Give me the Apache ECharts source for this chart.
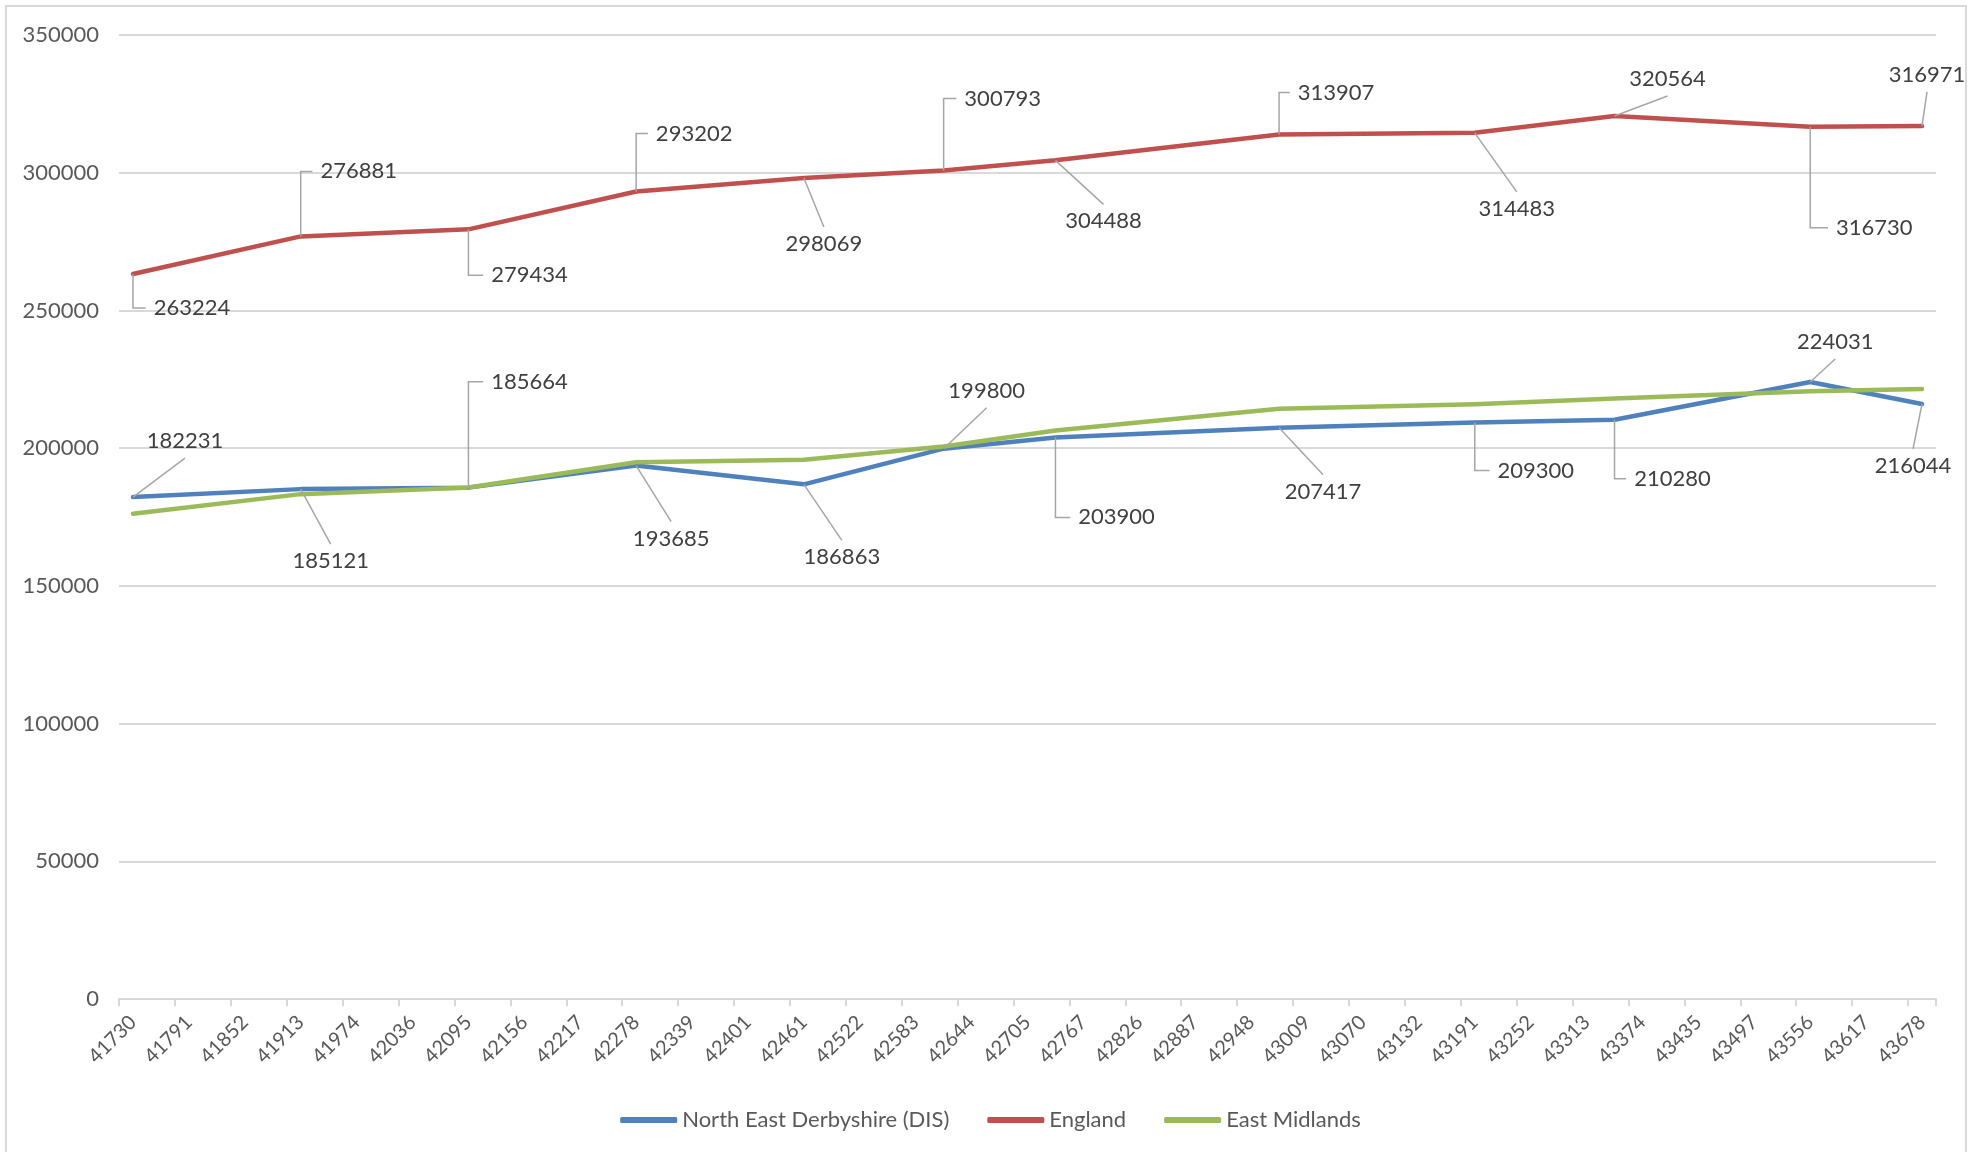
<!DOCTYPE html>
<html><head><meta charset="utf-8">
<script src="https://cdn.jsdelivr.net/npm/echarts@6/dist/echarts.min.js"></script>
<style>html,body{margin:0;padding:0;background:#fff}#c{width:1981px;height:1152px}</style>
</head><body><div id="c"></div>
<script>
// ---- data ----
// x-axis tick labels (Excel date serials, every 2 months)
const xTickLabels = [41730,41791,41852,41913,41974,42036,42095,42156,42217,42278,42339,42401,42461,42522,42583,42644,42705,42767,42826,42887,42948,43009,43070,43132,43191,43252,43313,43374,43435,43497,43556,43617,43678];
// observation dates (Excel date serials)
const dates = [41730,41913,42095,42278,42461,42614,42736,42979,43191,43344,43556,43678];
const seriesNames = ['North East Derbyshire (DIS)','England','East Midlands'];
const derbyshire = [182231,185121,185664,193685,186863,199800,203900,207417,209300,210280,224031,216044];
const england = [263224,276881,279434,293202,298069,300793,304488,313907,314483,320564,316730,316971];
const eastMidlands = [176200,183300,185700,194900,195800,200600,206400,214300,215900,218000,220700,221500];
const yMin = 0, yMax = 350000, yStep = 50000;

// ---- styling (label offsets in px and leader-line kinds, not data) ----
const labelOffsetsDerby = [[52,-56],[30,72],[61,-106],[35,73],[38,73],[43,-58],[61,80],[44,64],[61,48],[58,59],[25,-40],[-9,62]];
const leaderKindDerby   = ['d','d','e','d','d','d','e','d','e','e','d','d'];
const labelOffsetsEngland = [[59,34],[58,-65],[61,46],[58,-58],[20,66],[59,-72],[48,61],[57,-42],[42,76],[53,-37],[64,101],[5,-51]];
const leaderKindEngland   = ['e','e','e','e','d','e','d','e','d','d','e','d'];
const FONT = 'Lato', LABEL_SIZE = 22, LEADER_COLOR = '#A6A6A6';

// month categories (Excel serial of each month start) spanning the tick labels
function excelSerial(y, m) { return Math.round((Date.UTC(y, m - 1, 1) - Date.UTC(1899, 11, 30)) / 86400000); }
const monthCategories = [];
(function(){
  const first = xTickLabels[0], last = xTickLabels[xTickLabels.length - 1];
  for (let y = 2014, m = 1; ; ) {
    const s = excelSerial(y, m);
    if (s > last) break;
    if (s >= first) monthCategories.push(String(s));
    m++; if (m > 12) { m = 1; y++; }
  }
})();
const tickSet = new Set(xTickLabels.map(String));
const toData = vals => dates.map((d, i) => [monthCategories.indexOf(String(d)), vals[i]]);

const measureCtx = document.createElement('canvas').getContext('2d');
measureCtx.font = LABEL_SIZE + 'px ' + FONT;
const textW = t => measureCtx.measureText(t).width;

const labelCfg = {
  show: true, position: 'inside', align: 'center', verticalAlign: 'middle',
  fontFamily: FONT, fontSize: LABEL_SIZE, color: '#404040',
  formatter: p => String(p.value[1])
};

function lineSeries(name, vals, color, offsets) {
  const s = {
    name, type: 'line', color, data: toData(vals),
    symbol: 'circle', symbolSize: 2, showSymbol: true,
    itemStyle: { color },
    lineStyle: { color, width: 4.5, cap: 'round', join: 'round' },
    emphasis: { disabled: true },
    z: 2
  };
  if (offsets) {
    s.label = labelCfg;
    s.labelLine = { show: false };
    s.labelLayout = p => ({ dx: offsets[p.dataIndex][0], dy: offsets[p.dataIndex][1] });
  }
  return s;
}
// leader lines: 'e' = vertical from the point then horizontal to the label,
// 'd' = straight line towards the middle of the label's nearest side
function leaderSeries(id, vals, offsets, kinds) {
  return {
    id, type: 'custom', data: toData(vals), silent: true, z: 3,
    renderItem: (params, api) => {
      const i = params.dataIndex;
      const p = api.coord([api.value(0), api.value(1)]);
      const cx = p[0] + offsets[i][0], cy = p[1] + offsets[i][1];
      let pts;
      if (kinds[i] === 'e') {
        const w = textW(String(api.value(1)));
        const lx = cx - w / 2 - 8;
        pts = [[p[0], p[1]], [p[0], cy], [Math.max(p[0] + 6, lx), cy]];
      } else {
        const ey = cy + (offsets[i][1] > 0 ? -17 : 17);
        pts = [[p[0], p[1]], [cx, ey]];
      }
      return { type: 'polyline', shape: { points: pts },
        style: { stroke: LEADER_COLOR, lineWidth: 1.5, fill: null } };
    }
  };
}

const option = {
  backgroundColor: '#ffffff',
  animation: false,
  graphic: [{ type: 'rect', shape: { x: 6, y: 6, width: 1960, height: 1170 }, style: { fill: 'none', stroke: '#D9D9D9', lineWidth: 2 }, silent: true }],
  grid: { left: 119, right: 45, top: 35, bottom: 153, containLabel: false },
  legend: {
    left: 'center', top: 1104, itemWidth: 57, itemHeight: 6, itemGap: 38, icon: 'roundRect',
    textStyle: { fontFamily: FONT, fontSize: 22, color: '#595959' },
    data: seriesNames
  },
  xAxis: {
    type: 'category', data: monthCategories, boundaryGap: true,
    axisLine: { show: true, lineStyle: { color: '#D9D9D9', width: 2 } },
    axisTick: { show: true, interval: 1, length: 7, lineStyle: { color: '#D9D9D9', width: 2 } },
    axisLabel: { interval: 0, rotate: 45, margin: 20, fontFamily: FONT, fontSize: 20, color: '#595959',
      formatter: v => tickSet.has(v) ? v : '' },
    splitLine: { show: false }
  },
  yAxis: {
    type: 'value', min: yMin, max: yMax, interval: yStep,
    axisLine: { show: false }, axisTick: { show: false },
    axisLabel: { margin: 20, fontFamily: FONT, fontSize: 22, color: '#595959', formatter: v => String(v) },
    splitLine: { lineStyle: { color: '#D9D9D9', width: 2 } }
  },
  series: [
    lineSeries(seriesNames[0], derbyshire, '#4F81BD', labelOffsetsDerby),
    lineSeries(seriesNames[1], england, '#C0504D', labelOffsetsEngland),
    lineSeries(seriesNames[2], eastMidlands, '#9BBB59', null),
    leaderSeries('leaderDerby', derbyshire, labelOffsetsDerby, leaderKindDerby),
    leaderSeries('leaderEngland', england, labelOffsetsEngland, leaderKindEngland)
  ]
};
const chart = echarts.init(document.getElementById('c'), null, { renderer: 'canvas' });
chart.setOption(option);
</script></body></html>
